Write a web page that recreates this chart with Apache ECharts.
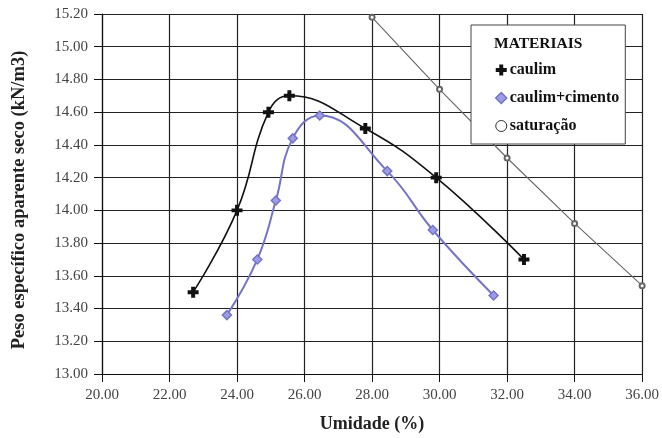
<!DOCTYPE html>
<html>
<head>
<meta charset="utf-8">
<script src="https://cdn.jsdelivr.net/npm/echarts@6.0.0/dist/echarts.min.js"></script>
<style>
  html, body { margin: 0; padding: 0; background: #fff; }
  #chart { width: 662px; height: 438px; }
</style>
</head>
<body>
<div id="chart"></div>
<script>
// 曲线数据: 从图上读取的 [umidade, peso específico]
const caulim = [
  [22.7, 13.50], [24.0, 14.00], [24.93, 14.60], [25.55, 14.70],
  [27.8, 14.50], [29.9, 14.20], [32.5, 13.70],
]
const caulimCimento = [
  [23.7, 13.36], [24.6, 13.70], [25.15, 14.06], [25.65, 14.44],
  [26.45, 14.58], [28.45, 14.24], [29.8, 13.88], [31.6, 13.48],
]
const saturacao = [
  [28.0, 15.18], [30.0, 14.74], [32.0, 14.32], [34.0, 13.92], [36.0, 13.54],
]
const nomesSeries = ['caulim', 'caulim+cimento', 'saturação']

const fonte = '"Liberation Serif", "DejaVu Serif", serif'
const cruz = 'path://M3.2,0H6.8V3.2H10V6.8H6.8V10H3.2V6.8H0V3.2H3.2Z'
const azul = '#7474c8'

const grafico = echarts.init(document.getElementById('chart'))
grafico.setOption({
  animation: false,
  textStyle: { fontFamily: fonte },
  grid: { left: 102, right: 18, top: 14, bottom: 63 },
  title: {
    text: 'MATERIAIS',
    left: 494,
    top: 36,
    padding: 0,
    textStyle: { fontFamily: fonte, fontSize: 15.5, fontWeight: 'bold', color: '#111' },
  },
  legend: {
    orient: 'vertical',
    left: 471,
    top: 25,
    padding: [37, 6, 10, 24],
    itemGap: 12,
    itemWidth: 11,
    itemHeight: 11,
    backgroundColor: '#fff',
    borderColor: '#444',
    borderWidth: 1,
    textStyle: { fontFamily: fonte, fontSize: 16, fontWeight: 'bold', color: '#111', padding: [0, 0, 0, -2] },
    data: [
      { name: nomesSeries[0], icon: cruz, itemStyle: { color: '#111', borderWidth: 0 } },
      { name: nomesSeries[1], icon: 'diamond', itemStyle: { color: '#9c9ce6', borderColor: azul, borderWidth: 1.5 } },
      { name: nomesSeries[2], icon: 'circle', itemStyle: { color: '#fff', borderColor: '#333', borderWidth: 1 } },
    ],
  },
  xAxis: {
    type: 'value',
    min: 20,
    max: 36,
    interval: 2,
    name: 'Umidade (%)',
    nameLocation: 'middle',
    nameGap: 41,
    nameTextStyle: { fontFamily: fonte, fontSize: 18, fontWeight: 'bold', color: '#222' },
    axisLine: { lineStyle: { color: '#111', width: 1.2 } },
    axisTick: { show: true, length: 8, lineStyle: { color: '#111' } },
    axisLabel: {
      fontFamily: fonte, fontSize: 15, color: '#444', margin: 14,
      formatter: (v) => v.toFixed(2),
    },
    splitLine: { show: true, lineStyle: { color: '#222', width: 1.2 } },
  },
  yAxis: {
    type: 'value',
    min: 13,
    max: 15.2,
    interval: 0.2,
    name: 'Peso específico aparente seco (kN/m3)',
    nameLocation: 'middle',
    nameGap: 73,
    nameTextStyle: { fontFamily: fonte, fontSize: 18.5, fontWeight: 'bold', color: '#222', padding: [0, 0, 0, -12] },
    axisLine: { show: true, lineStyle: { color: '#111', width: 1.2 } },
    axisTick: { show: true, length: 8, lineStyle: { color: '#111' } },
    axisLabel: {
      fontFamily: fonte, fontSize: 15, color: '#444', margin: 14,
      formatter: (v) => v.toFixed(2),
    },
    splitLine: { show: true, lineStyle: { color: '#222', width: 1.2 } },
  },
  series: [
    {
      name: nomesSeries[0],
      type: 'line',
      smooth: 0.45,
      data: caulim,
      symbol: cruz,
      symbolSize: 11,
      itemStyle: { color: '#111' },
      lineStyle: { color: '#111', width: 1.6 },
      z: 4,
    },
    {
      name: nomesSeries[1],
      type: 'line',
      smooth: 0.45,
      data: caulimCimento,
      symbol: 'diamond',
      symbolSize: 9,
      itemStyle: { color: '#9c9ce6', borderColor: azul, borderWidth: 1.5 },
      lineStyle: { color: azul, width: 2 },
      z: 3,
    },
    {
      name: nomesSeries[2],
      type: 'line',
      data: saturacao,
      symbol: 'emptyCircle',
      symbolSize: 5,
      itemStyle: { color: '#666', borderColor: '#666', borderWidth: 1 },
      lineStyle: { color: '#666', width: 1.1 },
      z: 2,
    },
  ],
})
</script>
</body>
</html>
